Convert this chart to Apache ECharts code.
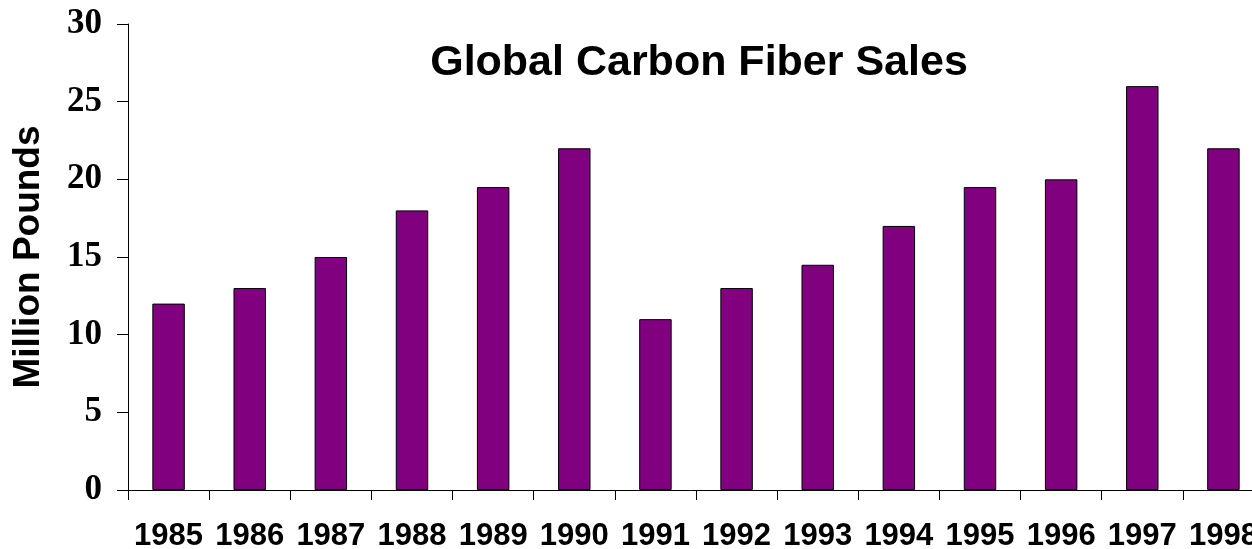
<!DOCTYPE html>
<html>
<head>
<meta charset="utf-8">
<script src="https://cdn.jsdelivr.net/npm/echarts@6/dist/echarts.min.js"></script>
<style>
html,body{margin:0;padding:0;background:#fff;}
#chart{width:1252px;height:549px;}
</style>
</head>
<body>
<div id="chart"></div>
<script>
const years = ['1985','1986','1987','1988','1989','1990','1991','1992','1993','1994','1995','1996','1997','1998'];
const sales = [12, 13, 15, 18, 19.5, 22, 11, 13, 14.5, 17, 19.5, 20, 26, 22];
const chartTitle = 'Global Carbon Fiber Sales';
const yName = 'Million Pounds';

const chart = echarts.init(document.getElementById('chart'), null, {renderer: 'canvas'});
chart.setOption({
  animation: false,
  backgroundColor: '#ffffff',
  title: {
    text: chartTitle,
    left: 694,
    top: 37,
    textAlign: 'center',
    textStyle: {fontFamily: 'Liberation Sans, Arial', fontWeight: 'bold', fontSize: 43, color: '#000'}
  },
  grid: {left: 128, width: 1136, top: 24, height: 466, containLabel: false, outerBoundsMode: 'none'},
  xAxis: {
    type: 'category',
    data: years,
    boundaryGap: true,
    axisLine: {lineStyle: {color: '#000', width: 1}},
    axisTick: {show: true, length: 10, lineStyle: {color: '#000'}},
    axisLabel: {interval: 0, margin: 31, color: '#000', fontFamily: 'Liberation Sans, Arial', fontWeight: 'bold', fontSize: 31},
    splitLine: {show: false}
  },
  yAxis: {
    type: 'value',
    min: 0, max: 30, interval: 5,
    name: yName,
    nameLocation: 'middle',
    nameRotate: 90,
    nameGap: 81,
    nameTextStyle: {fontFamily: 'Liberation Sans, Arial', fontWeight: 'bold', fontSize: 37, color: '#000'},
    axisLine: {show: true, lineStyle: {color: '#000', width: 1}},
    axisTick: {show: true, length: 11, lineStyle: {color: '#000'}},
    axisLabel: {margin: 26, color: '#000', fontFamily: 'Liberation Serif, Times New Roman', fontWeight: 'bold', fontSize: 35},
    splitLine: {show: false}
  },
  series: [{
    type: 'bar',
    data: sales,
    barWidth: '40%',
    itemStyle: {color: '#800080', borderColor: '#000', borderWidth: 1}
  }]
});
</script>
</body>
</html>
